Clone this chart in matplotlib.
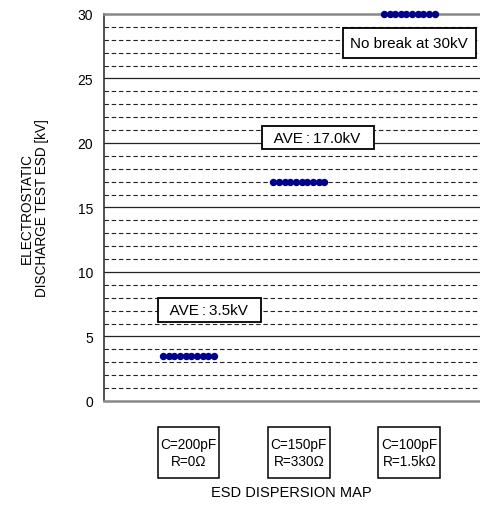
import numpy as np
import matplotlib
matplotlib.use('Agg')
import matplotlib.pyplot as plt
import matplotlib.transforms as mtransforms
from matplotlib.patches import Rectangle

plt.rcParams['font.family'] = ['Liberation Sans', 'DejaVu Sans']

# data
conditions = ['C=200pF\nR=0\u03a9', 'C=150pF\nR=330\u03a9', 'C=100pF\nR=1.5k\u03a9']
group_pos = [1, 2, 3]
esd_values = [
    [3.5] * 10,
    [17.0] * 10,
    [30.0] * 10,
]
notes = ['  AVE\u2009:\u20093.5kV  ', '  AVE\u2009:\u200917.0kV  ', 'No break at 30kV']
note_pos = [(1.19, 7.05), (2.17, 20.4), (3.0, 27.75)]
note_pad = [0.3, 0.3, 0.5]

fig = plt.figure(figsize=[4.81, 5.10], dpi=100)
ax = fig.add_axes([0.2162, 0.2118, 0.823, 0.7588])

# grid lines
for v in range(1, 30):
    if v % 5 == 0:
        ax.axhline(v, color='#222222', lw=0.9, zorder=1)
    else:
        ax.axhline(v, color='#222222', lw=0.8, ls=(0, (4, 2.5)), zorder=1)

# dots
for pos, vals in zip(group_pos, esd_values):
    xs = pos + np.linspace(-0.23, 0.23, len(vals))
    ax.plot(xs, vals, 'o', color='#00008B', ms=4.3, zorder=4, clip_on=False)

ax.set_ylim(0, 30)
ax.set_xlim(0.235, 3.82)
ax.set_yticks(np.arange(0, 31, 5))
ax.set_xticks([])
ax.tick_params(axis='y', length=0, labelsize=10, pad=8)

for s in ['top', 'bottom']:
    ax.spines[s].set_color('#888888')
    ax.spines[s].set_linewidth(1.8)
ax.spines['right'].set_visible(False)
ax.spines['left'].set_color('#333333')
ax.spines['left'].set_linewidth(1.2)

ax.set_ylabel('ELECTROSTATIC\nDISCHARGE TEST ESD [kV]', fontsize=9.8, labelpad=20, linespacing=1.15)

# annotation boxes
for txt, (x, y), p in zip(notes, note_pos, note_pad):
    ax.text(x, y, txt, ha='center', va='center', fontsize=11, zorder=5,
            bbox=dict(boxstyle='square,pad=%s' % p, fc='white', ec='black', lw=1.3))

# condition boxes below
trans = mtransforms.blended_transform_factory(ax.transData, ax.transAxes)
for pos, lab in zip(group_pos, conditions):
    ax.add_patch(Rectangle((pos - 0.28, -0.2), 0.56, 0.134, transform=trans,
                           fc='white', ec='black', lw=1.1, clip_on=False))
    ax.text(pos, -0.134, lab, transform=trans, ha='center', va='center',
            fontsize=9.8, linespacing=1.3)

ax.text(1.93, -0.235, 'ESD DISPERSION MAP', transform=trans, ha='center', va='center', fontsize=10.5)

fig.savefig('out.png', dpi=100)
